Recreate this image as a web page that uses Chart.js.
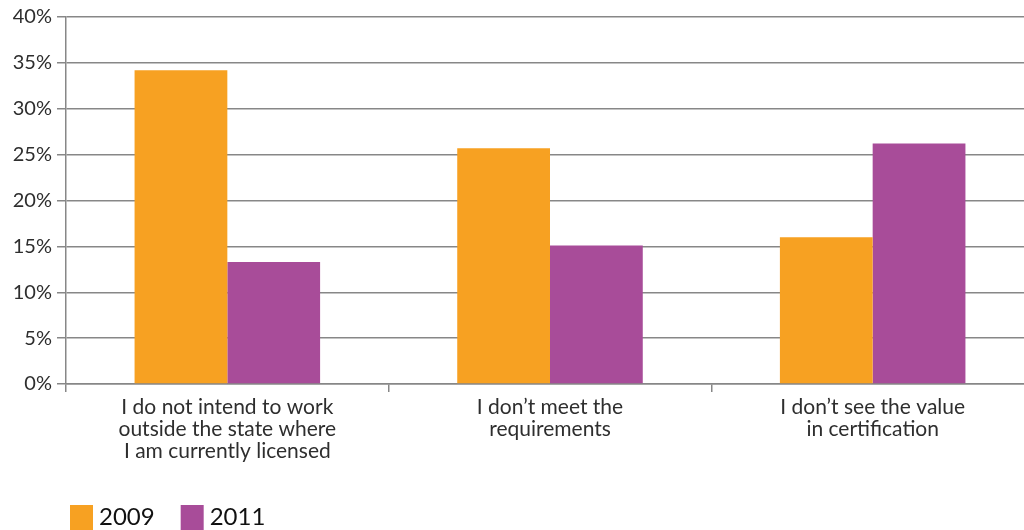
<!DOCTYPE html>
<html>
<head>
<meta charset="utf-8">
<script src="https://cdn.jsdelivr.net/npm/chart.js@4"></script>
<style>
  html, body { margin: 0; padding: 0; background: #fff; overflow: hidden; }
  #wrap { width: 1034px; height: 530px; }
</style>
</head>
<body>
<div id="wrap"><canvas id="grafico" width="1034" height="530"></canvas></div>
<script>
const categories = [
    ['I do not intend to work', 'outside the state where', 'I am currently licensed'],
    ['I don\u2019t meet the', 'requirements'],
    ['I don\u2019t see the value', 'in certification']
];
const years = ['2009', '2011'];
const values2009 = [34.2, 25.7, 16.0];
const values2011 = [13.3, 15.1, 26.2];
const yTicks = [0, 5, 10, 15, 20, 25, 30, 35, 40];

const orange = '#F7A122';
const purple = '#A84C99';
const gridColor = '#878787';
const fonte = 'Lato, "DejaVu Sans", sans-serif';

// legenda desenhada à mão, no canto inferior esquerdo
const legendaManual = {
    id: 'legendaManual',
    afterDraw(chart) {
        const ctx = chart.ctx;
        ctx.save();
        ctx.font = '24px ' + fonte;
        ctx.textBaseline = 'alphabetic';
        let x = 70;
        chart.data.datasets.forEach(ds => {
            ctx.fillStyle = ds.backgroundColor;
            ctx.fillRect(x, 505, 23, 26);
            ctx.fillStyle = '#111';
            ctx.fillText(ds.label, x + 29, 525);
            x += 29 + ctx.measureText(ds.label).width + 26;
        });
        ctx.restore();
    }
};

const ctx = document.getElementById('grafico').getContext('2d');
new Chart(ctx, {
    type: 'bar',
    data: {
        labels: categories,
        datasets: [
            { label: years[0], data: values2009, backgroundColor: orange },
            { label: years[1], data: values2011, backgroundColor: purple }
        ]
    },
    options: {
        responsive: false,
        animation: false,
        layout: { padding: { top: 17, right: 0, bottom: 0, left: 0 } },
        datasets: {
            bar: { barPercentage: 1, categoryPercentage: 0.575 }
        },
        plugins: {
            legend: { display: false },
            tooltip: { enabled: false }
        },
        scales: {
            x: {
                afterFit: s => { s.height = 146; },
                grid: {
                    drawOnChartArea: false,
                    drawTicks: true,
                    tickLength: 8,
                    color: gridColor,
                    lineWidth: 1.5
                },
                border: { color: gridColor, width: 1.5 },
                ticks: {
                    color: '#2e2e2e',
                    font: { family: fonte, size: 21, lineHeight: 1.05 },
                    padding: 4,
                    maxRotation: 0,
                    autoSkip: false
                }
            },
            y: {
                min: 0,
                max: 40,
                afterFit: s => { s.width = 66; },
                afterBuildTicks: s => { s.ticks = yTicks.map(v => ({ value: v })); },
                grid: {
                    color: gridColor,
                    lineWidth: 1.5,
                    tickLength: 9
                },
                border: { color: gridColor, width: 1.5 },
                ticks: {
                    color: '#2e2e2e',
                    font: { family: fonte, size: 20 },
                    padding: 5,
                    callback: v => v + '%'
                }
            }
        }
    },
    plugins: [legendaManual]
});
</script>
</body>
</html>
